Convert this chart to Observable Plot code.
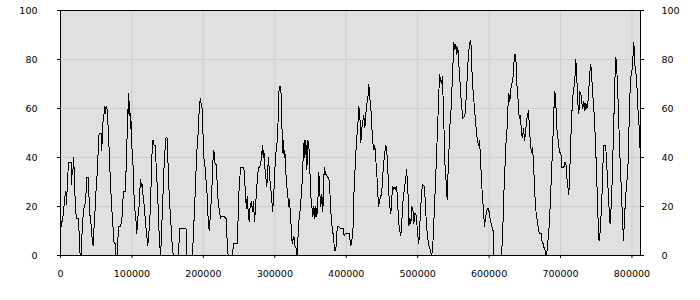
<!DOCTYPE html>
<html><head><meta charset="utf-8">
<script src="https://cdn.jsdelivr.net/npm/d3@7"></script>
<script src="https://cdn.jsdelivr.net/npm/@observablehq/plot@0.6"></script>
<style>body{margin:0;background:#fff;} #chart svg{display:block;}</style>
</head><body><div id="chart"></div>
<script>
// [position in thousands, value]
const segmentA = [[0,10],[0.9,12],[4.2,17],[5.6,23],[7.5,26],[8.4,21],[9.3,27],[10.3,33],[11.2,38],[14.9,38],[15.4,29],[16.3,35],[17.2,33],[18.2,40],[19.1,35],[20.0,26],[21.4,18],[22.4,15],[24.7,15],[25.6,12],[26.6,5],[27.5,0],[28.9,0],[29.4,5],[30.3,10],[31.2,15],[33.1,20],[34.5,21],[35.9,26],[36.8,32],[39.1,32],[40.1,22],[41.0,17],[42.4,14],[44.3,7],[45.7,4],[46.6,10],[47.5,13],[48.9,22],[50.3,29],[51.7,35],[53.1,45],[54.1,50],[56.9,50],[57.3,43],[58.3,46],[59.6,55],[61.0,58],[62.0,61],[62.9,58],[63.8,61],[64.8,61],[65.7,58],[67.1,50],[68.5,40],[69.9,30],[71.3,22],[72.7,15],[74.1,9],[75.0,5],[76.9,5],[77.8,0],[79.2,0],[80.6,8],[81.6,12],[84.3,12],[86.2,16],[87.1,22],[88.5,26],[90.4,26],[91.3,30],[92.3,40],[93.2,48],[94.1,55],[95.1,66],[96.0,57],[96.9,63],[97.9,52],[98.8,55],[99.7,45],[101.1,40],[102.1,33],[103.0,24],[103.9,20],[104.9,16],[105.8,14],[106.7,9],[107.6,12],[109.0,18],[110.0,20],[110.9,26],[112.3,31],[113.2,28],[114.2,29],[115.1,26],[116.5,22],[117.4,20],[118.8,14],[120.2,10],[122.1,4],[123.5,8],[124.9,14],[126.3,22],[127.2,35],[128.2,42],[129.5,47],[130.9,45],[132.3,45],[133.7,38],[134.7,32],[136.1,25],[137.5,12],[138.4,8],[139.3,3],[140.3,0],[141.2,8],[142.6,18],[143.5,25],[144.5,34],[145.4,38],[146.3,43],[147.7,48],[149.1,48],[150.1,43],[151.0,32],[152.4,24],[153.3,19],[155.2,10],[156.6,3],[158.0,0],[165.0,0],[165.9,5],[166.8,11],[175.7,11],[176.1,5],[177.1,0],[184.1,0],[185.5,5],[186.4,11],[187.8,20],[189.2,30],[190.6,42],[192.0,46],[193.4,55],[194.8,62],[195.7,64]];
const segmentB = [[198.3,60],[199.7,48],[200.7,40],[202.1,37],[203.9,30],[205.3,25],[206.7,15],[208.1,10],[209.5,15],[210.9,22],[212.3,30],[213.3,38],[214.7,43],[216.1,38],[217.9,37],[219.3,30],[220.7,22],[222.6,18],[224.0,15],[224.9,16],[228.7,16],[232.4,15],[233.3,5],[234.7,0],[241.3,0],[241.7,5],[247.3,5],[248.3,12],[249.7,25],[251.1,32],[252.5,36],[256.7,36],[258.1,30],[259.0,24],[260.4,19],[261.3,24],[262.7,18],[264.1,14],[265.5,20],[267.4,22],[268.8,18],[270.2,22],[271.6,14],[272.5,17],[273.9,24],[275.8,32],[277.2,36],[278.6,36],[280.0,37],[281.4,40],[282.8,45],[283.7,40],[284.7,43],[286.1,36],[287.5,32],[288.9,28],[289.8,34],[291.2,40],[292.6,33],[294.0,28],[295.4,25],[296.8,18],[298.2,22],[299.6,32],[301.0,40],[302.4,44],[303.8,48],[305.2,60],[306.1,69],[308.5,69],[309.4,58],[310.3,50],[311.3,42],[312.2,47],[313.1,40],[314.1,43],[315.5,34],[316.9,28],[318.3,24],[319.7,20],[320.6,23],[322.0,16],[323.4,10],[324.3,5],[326.7,8],[328.1,4],[329.9,3],[331.3,0],[332.3,5],[332.7,10],[334.1,15],[336.0,20],[338.3,30],[339.7,40],[341.1,47],[342.1,40],[343.5,47],[344.9,35],[346.3,47],[347.7,45],[349.1,35],[350.5,24],[351.9,20],[353.3,16],[354.7,20],[356.1,15],[357.5,20],[358.9,16],[360.3,22],[361.7,34],[363.1,25],[364.5,20],[365.9,25],[367.3,18],[368.7,32],[369.6,36],[371.0,33],[372.4,33],[373.8,32],[375.2,32],[376.6,30],[378.0,20],[379.4,14],[380.8,10],[382.2,8],[383.6,2],[385.5,2],[386.4,8],[387.8,12],[389.2,12],[392.0,11],[395.7,11],[397.1,8],[398.9,9]];
const segmentC = [[404.6,9],[406.0,4],[407.4,5],[408.8,8],[409.7,12],[411.1,28],[412.5,36],[413.9,44],[415.3,50],[416.7,55],[417.7,61],[419.1,57],[420.5,46],[421.9,52],[423.3,55],[424.7,57],[426.1,52],[427.5,58],[428.9,62],[430.3,64],[431.7,70],[432.6,65],[434.0,62],[435.4,56],[436.3,50],[437.7,45],[439.1,43],[440.1,45],[441.0,40],[442.4,36],[443.8,28],[445.2,20],[446.6,22],[448.0,24],[449.4,25],[450.8,30],[452.2,38],[453.6,40],[455.0,45],[456.4,44],[457.3,40],[458.3,35],[459.7,25],[461.1,20],[462.5,17],[463.9,24],[465.3,28],[466.7,27],[468.1,28],[469.5,27],[470.4,28],[471.8,24],[472.7,17],[473.7,13],[475.1,10],[476.0,8],[477.4,10],[478.8,20],[480.2,24],[481.6,28],[483.0,30],[484.4,35],[485.8,30],[486.7,24],[487.7,12],[489.1,15],[490.5,13],[491.9,20],[493.3,19],[494.7,13],[496.1,17],[497.5,17],[498.9,13],[500.3,8],[501.7,5],[502.6,10],[504.0,18],[505.4,25],[506.8,29],[509.6,28],[511.0,20],[512.4,12],[513.8,8],[515.2,5],[516.6,3],[518.0,2],[519.4,0],[520.8,2],[522.2,10],[523.6,20],[525.0,30],[526.4,40],[527.8,52],[529.2,62],[530.6,74],[532.0,72],[533.4,70],[534.8,73],[536.2,58],[537.6,45],[538.5,35],[539.9,30],[541.3,23],[542.7,35],[544.1,45],[545.5,55],[546.9,60],[548.3,70],[549.7,80],[550.7,87],[552.1,84],[553.5,86],[554.9,82],[556.3,85],[557.7,78],[559.1,72],[560.5,65],[561.9,60],[563.3,56],[566.1,57],[567.5,62],[568.9,70],[570.3,78],[571.7,84],[573.1,87],[574.5,88],[575.4,80],[576.8,70],[578.2,65],[579.6,60],[581.0,55],[582.4,50],[583.8,47],[585.2,45],[586.6,47],[588.0,40],[589.4,30],[590.8,24],[592.2,18],[593.6,12],[595.0,15],[596.4,18],[597.8,19],[599.2,19],[600.6,17],[602.0,14]];
const segmentD = [[605.7,10],[606.7,0],[617.4,0],[618.3,5],[619.7,15],[620.7,25],[622.1,35],[623.5,45],[624.9,50],[626.3,60],[627.7,66],[629.1,63],[630.5,68],[631.9,70],[633.3,72],[634.7,78],[635.6,82],[637.0,82],[637.9,78],[638.9,70],[640.3,65],[641.7,58],[642.6,56],[644.0,57],[645.4,50],[646.8,48],[648.2,52],[649.6,47],[651.0,50],[652.4,55],[653.8,57],[655.2,59],[656.6,52],[658.0,45],[659.4,42],[660.8,44],[662.2,38],[663.6,28],[665.0,20],[666.4,16],[667.8,14],[669.2,10],[670.6,9],[673.4,9],[674.3,5],[675.7,5],[677.1,3],[678.5,2],[679.9,0],[681.3,2],[682.7,7],[684.1,12],[685.5,20],[686.9,30],[688.3,40],[689.7,50],[691.1,62],[692.1,67],[693.5,62],[694.9,52],[696.3,48],[697.7,44],[699.1,42],[700.5,42],[701.9,36],[704.7,36],[706.1,38],[707.5,38],[708.9,32],[710.3,28],[711.7,25],[713.1,35],[714.5,48],[715.9,58],[717.3,65],[718.7,68],[720.1,72],[721.5,80],[722.9,72],[724.3,62],[725.7,58],[727.1,67],[728.5,66],[729.9,62],[731.3,60],[732.7,63],[734.1,59],[735.5,62],[736.9,60],[738.3,62],[739.7,68],[741.1,75],[742.5,78],[743.9,72],[745.3,65],[746.7,60],[748.1,52],[749.5,42],[750.9,30],[752.3,18],[753.2,7],[754.6,6],[756.0,12],[757.4,20],[758.8,30],[760.2,45],[763.0,45],[764.4,40],[765.8,30],[767.2,25],[768.6,15],[769.5,13],[770.9,20],[772.3,30],[773.7,45],[775.1,60],[776.5,75],[777.5,81],[778.4,78],[779.8,70],[781.2,58],[782.6,45],[784.0,35],[785.4,25],[786.8,15],[788.2,6],[789.1,12],[790.1,18],[791.5,25],[792.9,30],[794.3,35],[795.7,50],[797.1,65],[798.5,73],[799.9,75],[801.3,80],[802.3,87],[803.2,85],[804.1,78],[805.5,75],[806.9,70],[808.3,60],[809.7,55],[811.1,45],[812.0,40]];

const xTicks = [0, 100000, 200000, 300000, 400000, 500000, 600000, 700000, 800000];
const yTicks = [0, 20, 40, 60, 80, 100];
const xMax = 812000;

const data = [...segmentA, ...segmentB, ...segmentC, ...segmentD].map(([k, v]) => ({x: k * 1000, y: v}));

const chart = Plot.plot({
  width: 700,
  height: 300,
  marginLeft: 60,
  marginRight: 60,
  marginTop: 10,
  marginBottom: 45,
  style: {fontFamily: "'DejaVu Sans', Verdana, sans-serif", fontSize: "9.5px", color: "black", background: "white"},
  x: {domain: [0, xMax], label: null},
  y: {domain: [0, 100], label: null},
  marks: [
    Plot.frame({fill: "#e0e0e0"}),
    Plot.gridX(xTicks, {stroke: "#cdcdcd", strokeOpacity: 1}),
    Plot.gridY(yTicks, {stroke: "#cdcdcd", strokeOpacity: 1}),
    Plot.line(data, {x: "x", y: "y", stroke: "black", strokeWidth: 1, shapeRendering: "crispEdges"}),
    Plot.frame({stroke: "black"}),
    Plot.axisX(xTicks, {tickSize: 3, tickPadding: 12, tickFormat: d => String(d), label: null}),
    Plot.axisY(yTicks, {anchor: "left", tickSize: 3, tickPadding: 20, label: null}),
    Plot.axisY(yTicks, {anchor: "right", tickSize: 3, tickPadding: 18, label: null})
  ]
});
document.getElementById("chart").append(chart);
</script>
</body></html>
